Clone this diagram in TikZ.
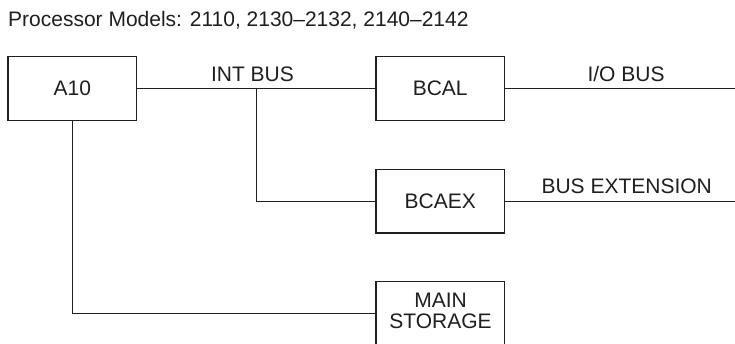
\documentclass[tikz,border=0pt]{standalone}
\usepackage{fontspec}
\setmainfont{Liberation Sans}
\definecolor{ink}{gray}{0.12}
\begin{document}
\begin{tikzpicture}[x=1pt,y=-1pt,
  lbl/.style={inner sep=0pt, text=ink, font=\fontsize{21pt}{21.3pt}\selectfont},
  box/.style={draw=ink, line width=1.2pt, minimum width=128.5pt, inner sep=0pt, text=ink,
              font=\fontsize{21pt}{21.3pt}\selectfont},
  wire/.style={draw=ink, line width=1.2pt}]
\useasboundingbox (0,0) rectangle (735,344);
\clip (0,0) rectangle (735,344);
\fill[white] (0,0) rectangle (735,344);
% title
\node[lbl, anchor=base west] (title) at (8,26.7) {Processor Models: 2110, 2130–2132, 2140–2142};
% boxes
\node[box, minimum height=64pt] (a10) at (72.3,88.7) {A10};
\node[box, minimum height=64pt] (bcal) at (440.2,88.7) {BCAL};
\node[box, minimum height=63.7pt] (bcaex) at (440.2,201.2) {BCAEX};
\node[box, minimum height=64pt] (ms) at (440.2,313.7) {};
\node[lbl, align=center] (mstext) at (440.5,310.9) {MAIN\\STORAGE};
% free ends
\coordinate (j) at (256.7,88.7);
\coordinate (ioend) at (737,88.7);
\coordinate (extend) at (737,201.2);
% connectors
\draw[wire] (a10.east) -- (bcal.west);
\draw[wire] (j) |- (bcaex.west);
\draw[wire] (a10.south) |- (ms.west);
\draw[wire] (bcal.east) -- (ioend);
\draw[wire] (bcaex.east) -- (extend);
% labels
\node[lbl, anchor=base] (intbus) at (252.5,81.7) {INT BUS};
\node[lbl, anchor=base] (iobus) at (626,81.7) {I/O BUS};
\node[lbl, anchor=base] (busext) at (626.7,193.3) {BUS EXTENSION};
\end{tikzpicture}
\end{document}
